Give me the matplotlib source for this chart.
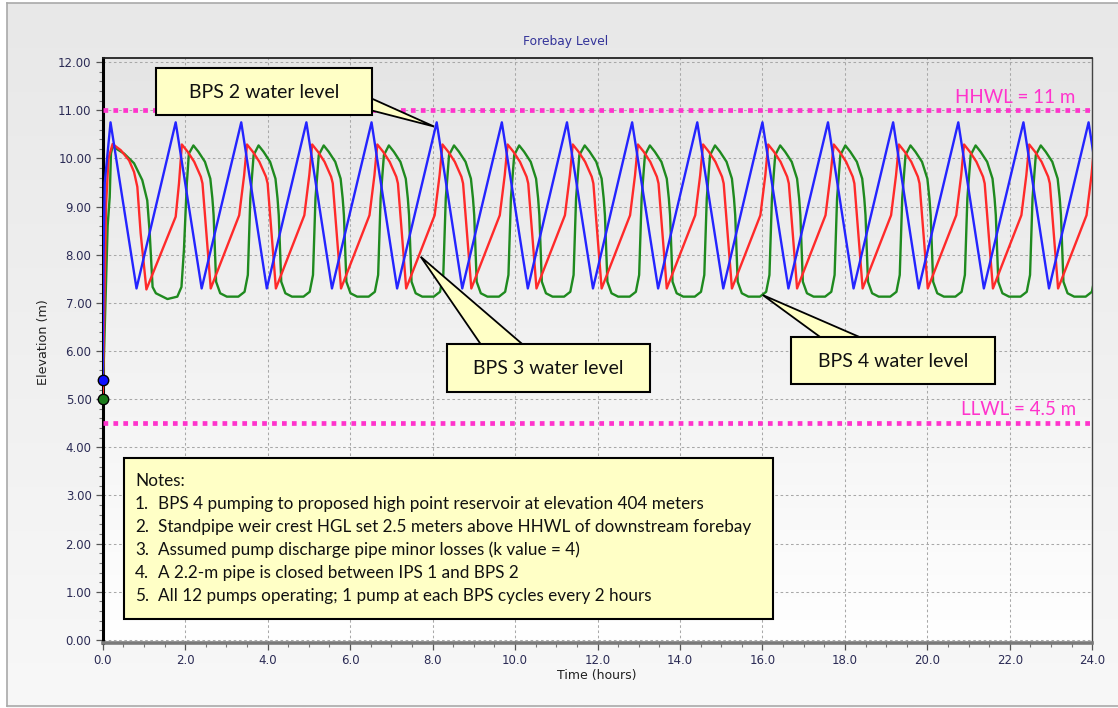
import numpy as np
import matplotlib
matplotlib.use("Agg")
import matplotlib.pyplot as plt
from matplotlib.patches import Rectangle, Polygon
from matplotlib.lines import Line2D
from matplotlib.colors import LinearSegmentedColormap
from matplotlib.ticker import MultipleLocator, FormatStrFormatter

# ---------------- data ----------------
title = "Forebay Level"
x_label = "Time (hours)"
y_label = "Elevation (m)"

hhwl = 11.0
llwl = 4.5

# BPS 2 (blue): start-up, then saw-tooth peaks / troughs
blue_start_t = [0.00, 0.02, 0.05]
blue_start_v = [5.40, 8.00, 9.50]
blue_peak_t = [0.19, 1.77, 3.36, 4.94, 6.52, 8.10, 9.68, 11.26, 12.84, 14.42,
               16.00, 17.59, 19.17, 20.75, 22.33, 23.91]
blue_trough_t = [0.82, 2.40, 3.98, 5.56, 7.14, 8.72, 10.31, 11.89, 13.47, 15.05,
                 16.63, 18.21, 19.79, 21.37, 22.95, 24.53]
blue_peak_v = 10.75
blue_trough_v = 7.30

# BPS 3 (red): start-up segment, then repeated cycle read from one period
red_start_t = [0.00, 0.03, 0.08, 0.14, 0.24, 0.44, 0.64, 0.76, 0.84, 0.92, 1.06, 1.77, 1.85]
red_start_v = [5.00, 6.50, 9.00, 10.00, 10.30, 10.17, 9.96, 9.72, 9.41, 8.45, 7.28, 8.79, 9.48]
red_cycle_peaks = [1.92, 3.50, 5.08, 6.66, 8.24, 9.82, 11.40, 12.98, 14.56, 16.14,
                   17.73, 19.31, 20.89, 22.47]
red_cycle_dt = [0.00, 0.14, 0.30, 0.46, 0.50, 0.70, 1.39, 1.51]
red_cycle_v = [10.29, 10.14, 9.93, 9.62, 9.48, 7.30, 8.82, 9.65]
red_end_t = [24.05]
red_end_v = [10.29]

# BPS 4 (green)
green_start_t = [0.00, 0.05, 0.12, 0.17, 0.20, 0.24, 0.52, 0.76, 0.96, 1.08, 1.14, 1.21,
                 1.29, 1.57, 1.81, 1.91, 1.97, 2.04, 2.09]
green_start_v = [5.00, 6.50, 8.60, 9.20, 10.10, 10.25, 10.10, 9.90, 9.55, 9.13, 8.45, 7.33,
                 7.20, 7.08, 7.13, 7.33, 8.10, 9.48, 10.10]
green_cycle_peaks = [2.20, 3.78, 5.36, 6.94, 8.52, 10.10, 11.69, 13.27, 14.85, 16.43,
                     18.01, 19.59, 21.17, 22.75]
green_cycle_dt = [0.00, 0.12, 0.28, 0.41, 0.46, 0.49, 0.55, 0.65, 0.81, 1.09, 1.24, 1.32, 1.38, 1.46]
green_cycle_v = [10.27, 10.14, 9.93, 9.58, 9.17, 8.82, 7.44, 7.20, 7.13, 7.13, 7.23, 7.58, 9.17, 10.07]

callout_texts = ["BPS 2 water level", "BPS 3 water level", "BPS 4 water level"]
notes_title = "Notes:"
notes_items = [
    "BPS 4 pumping to proposed high point reservoir at elevation 404 meters",
    "Standpipe weir crest HGL set 2.5 meters above HHWL of downstream forebay",
    "Assumed pump discharge pipe minor losses (k value = 4)",
    "A 2.2-m pipe is closed between IPS 1 and BPS 2",
    "All 12 pumps operating; 1 pump at each BPS cycles every 2 hours",
]

# ---------------- assemble series ----------------
bt = list(blue_start_t)
bv = list(blue_start_v)
for p, tr in zip(blue_peak_t, blue_trough_t):
    bt += [p, tr]
    bv += [blue_peak_v, blue_trough_v]

rt = list(red_start_t)
rv = list(red_start_v)
for p in red_cycle_peaks:
    rt += [p + d for d in red_cycle_dt]
    rv += list(red_cycle_v)
rt += red_end_t
rv += red_end_v

gt = list(green_start_t)
gv = list(green_start_v)
for p in green_cycle_peaks:
    gt += [p + d for d in green_cycle_dt]
    gv += list(green_cycle_v)

# ---------------- figure ----------------
W, H = 1118, 708
fig = plt.figure(figsize=(W / 100, H / 100), dpi=100)
fig.patch.set_facecolor("white")


def fx(x):
    return x / W


def fy(y):
    return 1 - y / H


grad = np.linspace(0, 1, 256).reshape(-1, 1)

# outer panel background
bg = fig.add_axes([fx(7), 0, 1 - fx(7), fy(3)], zorder=-5)
bg.imshow(grad, aspect="auto", extent=[0, 1, 0, 1], origin="upper",
          cmap=LinearSegmentedColormap.from_list("bg", ["#e8e8e8", "#f8f8f8"]))
bg.set_xlim(0, 1)
bg.set_ylim(0, 1)
bg.axis("off")
for xs, ys in [([fx(7), fx(7)], [fy(3), fy(706)]),
               ([fx(7), 1], [fy(3), fy(3)]),
               ([fx(7), 1], [fy(706), fy(706)])]:
    fig.add_artist(Line2D(xs, ys, color="#a9a9a9", lw=1.2, transform=fig.transFigure, zorder=-4))

# main axes
ax = fig.add_axes([fx(102.7), fy(643.3), (1092.3 - 102.7) / W, (643.3 - 58.3) / H])
ylo, yhi = -0.07, 12.08
ax.imshow(grad, aspect="auto", extent=[0, 24, ylo, yhi], origin="upper", zorder=0,
          cmap=LinearSegmentedColormap.from_list("pa", ["#e5e5e5", "#ffffff"]))
ax.set_xlim(0, 24)
ax.set_ylim(ylo, yhi)
ax.set_axisbelow(True)
ax.grid(True, which="major", color="#a8a8a8", linestyle=(0, (2.5, 2.5)), linewidth=0.75)

ax.xaxis.set_major_locator(MultipleLocator(2))
ax.xaxis.set_minor_locator(MultipleLocator(0.5))
ax.yaxis.set_major_locator(MultipleLocator(1))
ax.yaxis.set_minor_locator(MultipleLocator(0.2))
ax.xaxis.set_major_formatter(FormatStrFormatter("%.1f"))
ax.yaxis.set_major_formatter(FormatStrFormatter("%.2f"))
tick_col = "#2b2b55"
ax.tick_params(axis="both", which="major", length=5, width=0.9, color="#555555",
               labelsize=8.5, labelcolor=tick_col, pad=3)
ax.tick_params(axis="both", which="minor", length=3, width=0.8, color="#777777")
ax.tick_params(axis="x", which="major", pad=3)

ax.spines["left"].set_color("black")
ax.spines["left"].set_linewidth(2.2)
ax.spines["bottom"].set_color("#7a7a7a")
ax.spines["bottom"].set_linewidth(2.6)
ax.spines["top"].set_color("#222222")
ax.spines["top"].set_linewidth(1.3)
ax.spines["right"].set_color("#444444")
ax.spines["right"].set_linewidth(1.0)

fig.text(fx(566), fy(42), title, fontsize=8.8, color="#333399", ha="center", va="center")
fig.text(fx(597), fy(675), x_label, fontsize=9, color="#222222", ha="center", va="center")
fig.text(fx(44), fy(342), y_label, fontsize=9.2, color="#222222", ha="center", va="center",
         rotation=90)

# water level limits
mag = "#ff33cc"
ax.axhline(hhwl, color=mag, lw=3.4, linestyle=(0, (1, 1.1)), zorder=3)
ax.axhline(llwl, color=mag, lw=3.4, linestyle=(0, (1, 1.1)), zorder=3)
ax.text(23.6, hhwl + 0.15, "HHWL = 11 m", color=mag, fontsize=13.5, family="Lato",
        ha="right", va="baseline", zorder=4)
ax.text(23.6, llwl + 0.17, "LLWL = 4.5 m", color=mag, fontsize=13.5, family="Lato",
        ha="right", va="baseline", zorder=4)

# series
ax.plot(gt, gv, color="#1f8a1f", lw=1.7, zorder=5, solid_joinstyle="round")
ax.plot(rt, rv, color="#ff2a2a", lw=1.7, zorder=5, solid_joinstyle="round")
ax.plot(bt, bv, color="#2424ff", lw=1.7, zorder=5, solid_joinstyle="round")
ax.plot([0], [blue_start_v[0]], "o", ms=7.5, mfc="#1010ff", mec="black", mew=1.0,
        clip_on=False, zorder=7)
ax.plot([0], [green_start_v[0]], "o", ms=7.5, mfc="#1a7a1a", mec="black", mew=1.0,
        clip_on=False, zorder=7)

# callouts (figure pixel coordinates)
yellow = "#ffffc6"


def box(x0, y0, x1, y1, z=9, lw=1.5):
    fig.add_artist(Rectangle((fx(x0), fy(y1)), (x1 - x0) / W, (y1 - y0) / H,
                             facecolor=yellow, edgecolor="black", lw=lw,
                             transform=fig.transFigure, zorder=z))


def wedge(pts, z=8):
    fig.add_artist(Polygon([(fx(x), fy(y)) for x, y in pts], closed=True,
                           facecolor=yellow, edgecolor="black", lw=1.3,
                           transform=fig.transFigure, zorder=z))


def ftext(x, y, s, size, ha="center"):
    fig.text(fx(x), fy(y), s, fontsize=size, family="Lato", color="#111111",
             ha=ha, va="center", zorder=10)


wedge([(366, 96), (434, 126.5), (366, 109)])
box(156, 68.3, 371.5, 115)
ftext(264, 92, callout_texts[0], 14)

wedge([(484, 349), (420.7, 256.7), (528, 349)])
box(446.7, 344, 650, 391.7)
ftext(548, 368, callout_texts[1], 14)

wedge([(827, 342), (762.7, 295), (871, 342)])
box(790.7, 336.7, 995, 384)
ftext(893, 361, callout_texts[2], 14)

box(124, 458, 773, 619)
ftext(135, 481, notes_title, 12.3, ha="left")
for i, item in enumerate(notes_items):
    yy = 504 + 23 * i
    ftext(135, yy, f"{i + 1}.", 12.3, ha="left")
    ftext(158, yy, item, 12.3, ha="left")

fig.savefig("out.png", dpi=100, facecolor=fig.get_facecolor())
